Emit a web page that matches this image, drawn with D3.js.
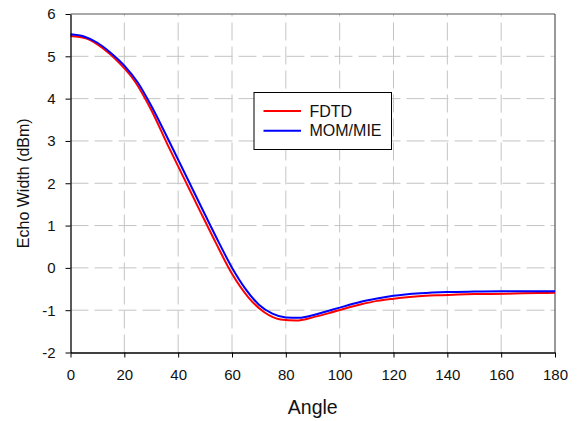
<!DOCTYPE html>
<html>
<head>
<meta charset="utf-8">
<script src="https://cdn.jsdelivr.net/npm/d3@7"></script>
<style>
  html, body { margin: 0; padding: 0; background: #fff; }
  svg { display: block; font-family: "Liberation Sans", Arial, sans-serif; }
</style>
</head>
<body>
<svg id="chart" width="579" height="421"></svg>
<script>
// ---- data ----
const xTicks = [0, 20, 40, 60, 80, 100, 120, 140, 160, 180];
const yTicks = [-2, -1, 0, 1, 2, 3, 4, 5, 6];

const fdtdAngles = [0, 6, 12, 18, 24, 30, 36, 42, 48, 54, 60, 66, 72, 78, 84, 90, 96, 102, 108, 114, 120, 126, 132, 138, 144, 150, 156, 162, 168, 174, 180];
const fdtdValues = [5.48, 5.42, 5.19, 4.85, 4.40, 3.73, 2.92, 2.14, 1.36, 0.59, -0.14, -0.69, -1.05, -1.22, -1.245, -1.17, -1.07, -0.96, -0.86, -0.78, -0.73, -0.69, -0.66, -0.645, -0.63, -0.62, -0.615, -0.61, -0.60, -0.595, -0.59];

const momAngles = [0, 5, 10, 15, 20, 25, 30, 35, 40, 45, 50, 55, 60, 65, 70, 75, 80, 85, 90, 95, 100, 105, 110, 115, 120, 130, 140, 150, 160, 170, 180];
const momValues = [5.52, 5.47, 5.32, 5.08, 4.78, 4.38, 3.83, 3.205, 2.555, 1.905, 1.255, 0.615, 0.005, -0.495, -0.87, -1.08, -1.17, -1.18, -1.12, -1.03, -0.94, -0.85, -0.77, -0.71, -0.66, -0.60, -0.57, -0.56, -0.555, -0.55, -0.55];

const seriesNames = ["FDTD", "MOM/MIE"];
const seriesColors = ["#ff0000", "#0000ff"];

// ---- layout ----
const svg = d3.select("#chart");
const pLeft = 70.5, pRight = 555, pTop = 14, pBottom = 352.5;

const x = d3.scaleLinear().domain([0, 180]).range([pLeft, pRight]);
const y = d3.scaleLinear().domain([-2, 6]).range([pBottom, pTop]);

// grid
const grid = svg.append("g");
grid.selectAll("line.v").data(xTicks.filter(d => d > 0 && d < 180)).enter()
  .append("line")
  .attr("x1", d => x(d)).attr("x2", d => x(d))
  .attr("y1", pBottom).attr("y2", pTop)
  .attr("stroke", "#c4c4c4").attr("stroke-width", 1)
  .attr("stroke-dasharray", "18,6");
grid.selectAll("line.h").data(yTicks.filter(d => d > -2 && d < 6)).enter()
  .append("line")
  .attr("x1", pLeft).attr("x2", pRight)
  .attr("y1", d => y(d)).attr("y2", d => y(d))
  .attr("stroke", "#c4c4c4").attr("stroke-width", 1)
  .attr("stroke-dasharray", "18,6");

// frame top/right
svg.append("line").attr("x1", pLeft).attr("x2", pRight).attr("y1", pTop).attr("y2", pTop)
  .attr("stroke", "#555").attr("stroke-width", 1.2);
svg.append("line").attr("x1", pRight).attr("x2", pRight).attr("y1", pTop).attr("y2", pBottom)
  .attr("stroke", "#555").attr("stroke-width", 1.2);

// series
const line = d3.line().x(d => x(d[0])).y(d => y(d[1])).curve(d3.curveMonotoneX);
const fdtd = fdtdAngles.map((a, i) => [a, fdtdValues[i]]);
const mom = momAngles.map((a, i) => [a, momValues[i]]);

svg.append("path").datum(fdtd)
  .attr("d", line)
  .attr("fill", "none").attr("stroke", seriesColors[0]).attr("stroke-width", 2);
svg.append("path").datum(mom)
  .attr("d", line)
  .attr("fill", "none").attr("stroke", seriesColors[1]).attr("stroke-width", 2);

// axes
const fmt = d => String(d);
const xAxis = svg.append("g").attr("transform", `translate(0,${pBottom})`)
  .call(d3.axisBottom(x).tickValues(xTicks).tickFormat(fmt).tickSize(5).tickPadding(11.5).tickSizeOuter(0));
const yAxis = svg.append("g").attr("transform", `translate(${pLeft},0)`)
  .call(d3.axisLeft(y).tickValues(yTicks).tickFormat(fmt).tickSize(5).tickPadding(10).tickSizeOuter(0));
[xAxis, yAxis].forEach(g => {
  g.select(".domain").attr("stroke", "#000").attr("stroke-width", 1.3);
  g.selectAll(".tick line").attr("stroke", "#000");
  g.selectAll(".tick text").attr("font-size", 15).attr("fill", "#111")
    .attr("font-family", "'Liberation Sans', Arial, sans-serif");
});

// axis titles
svg.append("text").attr("x", (pLeft + pRight) / 2).attr("y", 414.3)
  .attr("text-anchor", "middle").attr("font-size", 19.5).attr("fill", "#111")
  .text("Angle");
svg.append("text").attr("transform", `translate(29,${(pTop + pBottom) / 2}) rotate(-90)`)
  .attr("text-anchor", "middle").attr("font-size", 16).attr("fill", "#111")
  .text("Echo Width (dBm)");

// legend
const lg = svg.append("g");
lg.append("rect").attr("x", 254).attr("y", 92.5).attr("width", 137.5).attr("height", 57)
  .attr("fill", "#fff").attr("stroke", "#000").attr("stroke-width", 1);
seriesNames.forEach((name, i) => {
  const yy = 111 + i * 19.7;
  lg.append("line").attr("x1", 263.5).attr("x2", 301).attr("y1", yy).attr("y2", yy)
    .attr("stroke", seriesColors[i]).attr("stroke-width", 2);
  lg.append("text").attr("x", 309.5).attr("y", yy + 5.7).attr("font-size", 16).attr("fill", "#111")
    .text(name);
});
</script>
</body>
</html>
